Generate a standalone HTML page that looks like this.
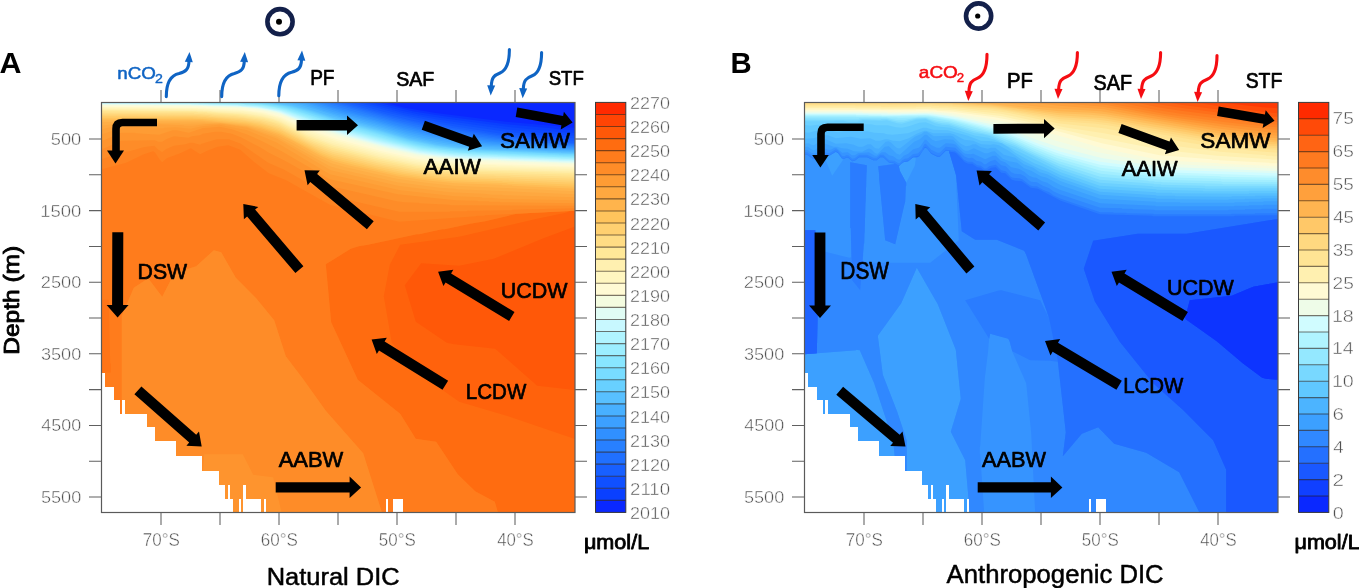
<!DOCTYPE html>
<html><head><meta charset="utf-8"><style>html,body{margin:0;padding:0;background:#fff;}svg{display:block;filter:blur(0.35px);}</style></head>
<body><svg width="1359" height="588" viewBox="0 0 1359 588">
<rect width="1359" height="588" fill="#fff"/>
<defs><clipPath id="clip0"><rect x="101.5" y="102.5" width="473.5" height="410.0"/></clipPath><clipPath id="clip703"><rect x="804.5" y="102.5" width="473.5" height="410.0"/></clipPath></defs>
<g clip-path="url(#clip0)">
<rect x="101.5" y="102.5" width="473.5" height="410.0" fill="#ff5808"/>
<path fill="#ff620c" fill-rule="evenodd" d="M100.8,101.8 100.8,513.2 575.8,513.2 575.8,390.2 537.2,385.8 495.2,348.8 454.2,344.2 446.8,342.8 415.8,321.8 404.8,285.2 421.2,263.2 459.2,265.8 493.8,258.8 542.2,238.8 575.8,226.2 575.8,101.8Z"/>
<path fill="#ff6c10" fill-rule="evenodd" d="M100.8,101.8 100.8,513.2 575.8,513.2 575.8,439.2 508.2,416.2 459.2,401.8 423.8,376.8 417.8,371.2 391.8,342.8 383.8,296.2 389.8,264.8 400.2,244.8 459.2,236.8 534.8,219.2 565.8,212.8 570.2,211.2 575.8,210.8 575.8,101.8Z"/>
<path fill="#ff7416" fill-rule="evenodd" d="M100.8,101.8 100.8,513.2 498.2,513.2 494.8,501.8 475.2,491.2 457.8,474.2 436.2,441.8 415.8,438.8 400.2,413.8 357.8,379.8 331.2,322.2 325.8,264.2 350.8,248.8 358.8,246.2 368.2,244.8 416.8,234.2 419.2,234.2 442.2,229.2 444.8,229.2 470.2,223.8 485.2,221.2 516.8,213.8 575.8,210.8 575.8,101.8Z"/>
<path fill="#ff7c1c" fill-rule="evenodd" d="M100.8,101.8 100.8,299.8 108.2,299.8 108.8,300.2 110.2,363.2 110.8,363.8 110.8,372.2 110.2,372.8 100.8,372.8 100.8,513.2 498.2,513.2 494.8,501.8 475.2,491.2 457.8,474.2 436.2,441.8 415.8,438.8 400.2,413.8 357.8,379.8 331.2,322.2 325.8,264.2 350.8,248.8 358.8,246.2 368.2,244.8 416.8,234.2 419.2,234.2 442.2,229.2 444.8,229.2 470.2,223.8 485.2,221.2 516.8,213.8 575.8,210.8 575.8,101.8Z"/>
<path fill="#fe8422" fill-rule="evenodd" d="M133.8,287.8 121.8,315.8 121.8,513.2 382.2,513.2 363.2,453.2 325.8,410.8 302.2,377.8 285.8,356.2 274.2,320.2 256.2,298.2 235.8,277.8 221.2,252.2 213.8,250.2 196.2,266.2 174.2,273.2 162.2,296.8 148.2,278.2ZM100.8,101.8 100.8,168.8 103.8,168.8 126.2,162.8 143.8,154.2 153.2,151.2 155.2,152.8 159.8,159.8 162.2,162.2 166.8,158.2 180.2,153.2 190.8,148.2 200.2,154.2 207.2,150.8 217.8,146.8 228.2,145.2 240.2,149.8 253.8,161.8 268.8,173.2 286.2,180.2 329.8,204.8 399.2,221.8 476.2,216.2 476.8,215.8 484.2,215.8 484.8,215.2 575.8,210.8 575.8,101.8Z"/>
<path fill="#fe8c28" fill-rule="evenodd" d="M133.8,287.8 121.8,315.8 121.8,513.2 382.2,513.2 363.2,453.2 325.8,410.8 302.2,377.8 285.8,356.2 274.2,320.2 256.2,298.2 235.8,277.8 221.2,252.2 213.8,250.2 196.2,266.2 174.2,273.2 162.2,296.8 148.2,278.2ZM100.8,101.8 100.8,158.8 103.2,158.8 121.2,152.2 129.8,151.2 143.2,147.2 154.2,145.8 157.8,149.2 162.2,152.2 165.8,149.2 173.8,145.8 185.8,144.2 189.8,142.8 192.8,142.8 200.2,144.8 201.8,143.8 216.8,139.2 228.8,139.2 240.8,143.8 268.2,162.8 284.2,169.8 330.2,195.8 399.2,211.8 449.8,211.8 450.2,211.2 466.8,211.2 467.2,210.8 511.8,210.2 512.2,209.8 575.8,208.2 575.8,101.8Z"/>
<path fill="#fe942e" fill-rule="evenodd" d="M204.2,454.2 200.2,513.2 281.8,513.2 273.2,477.2 253.2,474.8 242.8,454.2ZM100.8,101.8 100.8,148.8 103.2,148.8 121.2,140.8 154.8,140.2 158.2,141.8 162.2,141.8 166.2,139.2 173.8,136.2 188.2,137.8 191.8,136.2 199.8,135.2 202.8,133.8 215.2,131.8 220.8,131.8 231.8,133.8 240.8,137.2 261.8,148.2 268.8,152.8 286.8,161.8 330.8,186.8 339.8,188.2 396.8,201.2 404.2,202.2 418.8,202.8 419.2,203.2 449.8,204.8 450.2,205.2 575.8,205.8 575.8,101.8Z"/>
<path fill="#fe9c34" fill-rule="evenodd" d="M100.8,101.8 100.8,140.8 103.8,140.2 121.2,132.8 135.2,132.8 135.8,133.2 159.2,134.8 172.8,130.2 176.2,130.2 188.8,132.8 202.2,128.2 219.2,126.8 231.8,129.2 247.8,134.8 261.2,140.8 280.8,150.8 329.8,179.2 397.8,194.2 455.8,200.2 477.8,200.8 478.2,201.2 488.8,201.2 489.2,201.8 499.8,201.8 500.2,202.2 575.8,203.2 575.8,101.8Z"/>
<path fill="#fea23a" fill-rule="evenodd" d="M100.8,101.8 100.8,133.8 103.8,133.8 118.8,128.8 128.2,126.8 152.8,127.8 153.2,128.2 163.8,128.2 164.2,127.8 175.8,127.2 190.2,128.8 202.2,126.2 219.2,124.8 247.2,130.2 276.2,142.2 329.8,174.2 400.2,190.2 454.8,196.2 481.8,197.2 482.2,197.8 490.8,197.8 500.2,198.8 575.8,200.2 575.8,101.8Z"/>
<path fill="#fea840" fill-rule="evenodd" d="M100.8,101.8 100.8,129.2 129.2,123.2 183.8,125.2 184.2,125.8 192.8,125.8 205.2,124.2 220.8,123.8 247.2,127.8 277.2,138.8 330.8,170.2 397.8,185.8 449.8,192.2 483.8,193.8 492.8,194.8 502.2,194.8 502.8,195.2 575.8,197.2 575.8,101.8Z"/>
<path fill="#feae46" fill-rule="evenodd" d="M100.8,101.8 100.8,125.8 128.2,122.2 139.8,122.2 140.2,122.8 159.8,122.8 160.2,123.2 179.8,123.2 180.2,123.8 220.2,123.2 246.8,126.8 276.8,136.8 329.8,166.2 342.2,169.8 397.2,182.2 439.8,187.8 455.8,188.8 456.2,189.2 575.8,194.2 575.8,101.8Z"/>
<path fill="#ffb44c" fill-rule="evenodd" d="M100.8,101.8 100.8,122.2 123.8,121.8 124.2,121.2 204.8,121.8 205.2,122.2 220.2,122.8 248.2,126.2 266.2,131.2 278.8,135.8 293.8,143.2 314.8,155.2 331.2,163.2 345.8,167.2 396.8,178.8 425.8,182.8 454.2,185.8 575.8,191.2 575.8,101.8Z"/>
<path fill="#ffbc54" fill-rule="evenodd" d="M100.8,101.8 100.8,120.2 199.8,120.2 245.8,124.8 261.2,128.2 279.2,134.2 293.8,141.2 319.2,155.2 333.2,161.2 348.2,165.2 399.8,176.8 429.8,180.8 455.2,183.2 501.8,184.8 502.2,185.2 511.8,185.2 512.2,185.8 575.8,188.8 575.8,101.8Z"/>
<path fill="#ffc45c" fill-rule="evenodd" d="M100.8,101.8 100.8,118.8 202.2,119.2 247.2,123.8 260.8,126.8 279.2,132.8 321.8,154.8 332.8,159.2 353.8,164.8 398.2,174.8 422.2,178.2 450.8,181.2 507.2,183.2 507.8,183.8 575.8,186.8 575.8,101.8Z"/>
<path fill="#ffca66" fill-rule="evenodd" d="M100.8,101.8 100.8,117.8 192.8,117.8 193.2,118.2 210.8,118.8 248.8,122.8 262.2,125.8 279.2,131.2 322.2,153.2 333.8,157.8 378.2,168.8 402.2,173.8 423.2,176.8 453.8,179.8 502.2,181.2 502.8,181.8 513.8,181.8 514.2,182.2 575.8,184.8 575.8,101.8Z"/>
<path fill="#ffd070" fill-rule="evenodd" d="M100.8,101.8 100.8,116.2 197.2,116.8 197.8,117.2 206.2,117.2 206.8,117.8 212.8,117.8 243.8,120.8 259.8,123.8 269.2,126.2 282.8,131.2 317.2,149.2 331.8,155.2 372.8,165.8 403.2,172.2 424.2,175.2 449.2,177.8 456.2,177.8 456.8,178.2 495.8,179.2 496.2,179.8 508.8,179.8 509.2,180.2 575.8,182.8 575.8,101.8Z"/>
<path fill="#ffd67a" fill-rule="evenodd" d="M100.8,101.8 100.8,115.2 200.2,115.8 200.8,116.2 208.2,116.2 208.8,116.8 236.8,118.8 259.2,122.2 279.2,128.2 313.2,145.8 332.8,153.8 375.8,164.8 407.2,171.2 425.2,173.8 445.2,175.8 451.2,175.8 451.8,176.2 575.8,180.8 575.8,101.8Z"/>
<path fill="#ffdc84" fill-rule="evenodd" d="M100.8,101.8 100.8,113.8 202.8,114.8 203.2,115.2 210.2,115.2 210.8,115.8 243.2,118.2 260.8,121.2 279.2,126.8 310.2,142.8 332.2,151.8 383.2,164.8 414.8,170.8 435.8,173.2 454.2,174.2 454.8,174.8 464.2,174.8 464.8,175.2 495.2,175.8 495.8,176.2 510.2,176.2 510.8,176.8 575.8,178.8 575.8,101.8Z"/>
<path fill="#ffe28e" fill-rule="evenodd" d="M100.8,101.8 100.8,112.8 193.8,113.2 194.2,113.8 204.8,113.8 205.2,114.2 212.2,114.2 212.8,114.8 235.8,116.2 260.2,119.8 272.2,122.8 279.2,125.2 309.2,140.8 331.8,149.8 379.8,162.2 412.2,168.8 432.2,171.2 457.8,172.8 458.2,173.2 575.8,176.8 575.8,101.8Z"/>
<path fill="#ffe898" fill-rule="evenodd" d="M100.8,101.8 100.8,111.2 197.8,112.2 198.2,112.8 207.2,112.8 207.8,113.2 238.2,115.2 264.2,119.2 279.2,123.8 308.2,138.8 331.2,147.8 374.2,159.2 416.2,167.8 433.2,169.8 461.8,171.2 462.2,171.8 575.8,174.8 575.8,101.8Z"/>
<path fill="#ffeca4" fill-rule="evenodd" d="M100.8,101.8 100.8,110.2 196.2,111.2 196.8,111.8 206.8,111.8 207.2,112.2 238.8,114.2 263.2,117.8 274.8,120.8 281.2,123.2 307.2,136.8 333.8,146.8 379.2,158.8 416.8,166.2 433.8,168.2 453.2,169.2 453.8,169.8 462.8,169.8 463.2,170.2 575.8,173.2 575.8,101.8Z"/>
<path fill="#fff0b0" fill-rule="evenodd" d="M100.8,101.8 100.8,109.8 202.8,110.8 203.2,111.2 211.2,111.2 211.8,111.8 243.8,113.8 260.8,116.2 271.8,118.8 279.2,121.2 306.2,134.8 332.8,144.8 379.8,157.2 416.8,164.8 433.2,166.8 460.2,168.2 460.8,168.8 575.8,171.8 575.8,101.8Z"/>
<path fill="#fff3b8" fill-rule="evenodd" d="M100.8,101.8 100.8,108.8 196.8,109.8 197.2,110.2 208.2,110.2 208.8,110.8 237.8,112.2 263.8,115.8 279.8,120.2 306.2,133.2 330.2,142.2 380.2,155.8 416.8,163.2 438.8,165.8 458.2,166.8 458.8,167.2 554.8,169.8 555.2,170.2 574.8,170.2 575.8,170.8 575.8,101.8Z"/>
<path fill="#fff6c0" fill-rule="evenodd" d="M100.8,101.8 100.8,108.2 203.8,109.2 204.2,109.8 213.2,109.8 213.8,110.2 242.8,111.8 261.2,114.2 270.8,116.2 280.2,119.2 308.8,132.8 339.2,143.2 380.8,154.2 411.2,160.8 423.8,162.8 449.8,165.2 456.2,165.2 456.8,165.8 466.2,165.8 466.8,166.2 575.8,169.2 575.8,101.8Z"/>
<path fill="#fff8ca" fill-rule="evenodd" d="M100.8,101.8 100.8,107.2 197.8,108.2 198.2,108.8 209.8,108.8 210.2,109.2 242.8,110.8 261.8,113.2 280.8,118.2 305.2,129.8 338.2,141.2 381.2,152.8 406.2,158.2 423.8,161.2 448.8,163.8 454.8,163.8 455.2,164.2 463.2,164.2 463.8,164.8 496.2,165.2 496.8,165.8 512.2,165.8 512.8,166.2 575.2,167.8 575.8,168.2 575.8,101.8Z"/>
<path fill="#fffad4" fill-rule="evenodd" d="M100.8,101.8 100.8,106.8 205.8,107.8 206.2,108.2 242.2,109.8 264.8,112.8 281.2,117.2 307.8,129.2 337.2,139.2 381.8,151.2 414.2,158.2 427.2,160.2 453.2,162.2 453.8,162.8 461.2,162.8 461.8,163.2 575.8,166.8 575.8,101.8Z"/>
<path fill="#fafbda" fill-rule="evenodd" d="M100.8,101.8 100.8,105.8 198.8,106.8 199.2,107.2 212.8,107.2 213.2,107.8 241.8,108.8 262.2,111.2 281.8,116.2 309.2,128.2 339.8,138.2 384.2,150.2 414.2,156.8 427.2,158.8 452.8,161.2 459.2,161.2 459.8,161.8 469.8,161.8 470.2,162.2 487.2,162.2 487.8,162.8 504.2,162.8 504.8,163.2 518.2,163.2 518.8,163.8 558.2,164.8 558.8,165.2 575.8,165.2 575.8,101.8Z"/>
<path fill="#f4fce0" fill-rule="evenodd" d="M100.8,101.8 100.8,105.2 207.8,106.2 208.2,106.8 240.8,107.8 255.8,109.2 276.2,113.2 286.2,116.8 310.8,127.2 338.8,136.2 384.8,148.8 417.2,155.8 457.8,160.2 575.8,164.2 575.8,101.8Z"/>
<path fill="#eafcea" fill-rule="evenodd" d="M100.8,101.8 100.8,104.8 190.8,105.2 191.2,105.8 235.2,106.8 235.8,107.2 243.8,107.2 257.8,108.8 279.2,113.2 308.8,125.2 341.8,135.8 390.2,148.8 418.2,154.8 441.8,157.8 458.8,158.8 459.2,159.2 467.8,159.2 468.2,159.8 500.8,160.2 501.2,160.8 575.8,163.2 575.8,101.8Z"/>
<path fill="#e0fcf4" fill-rule="evenodd" d="M100.8,101.8 100.8,104.2 206.8,105.2 207.2,105.8 242.8,106.8 257.8,108.2 272.2,110.8 279.8,112.8 308.8,124.2 350.8,137.2 390.2,147.8 417.8,153.8 444.8,157.2 462.8,158.2 463.2,158.8 506.2,159.8 506.8,160.2 519.2,160.2 519.8,160.8 575.8,162.8 575.8,101.8Z"/>
<path fill="#d4fafa" fill-rule="evenodd" d="M100.8,101.8 100.8,103.8 202.8,104.8 203.2,105.2 241.8,106.2 242.2,106.8 257.8,107.8 270.2,109.8 280.2,112.2 307.2,122.8 347.2,135.2 380.2,144.2 417.2,152.8 438.2,155.8 459.2,157.2 459.8,157.8 467.8,157.8 468.2,158.2 497.8,158.8 498.2,159.2 511.2,159.2 511.8,159.8 523.8,159.8 524.2,160.2 536.2,160.2 536.8,160.8 548.8,160.8 549.2,161.2 575.8,161.8 575.8,101.8Z"/>
<path fill="#c8f8ff" fill-rule="evenodd" d="M100.8,101.8 100.8,103.2 105.8,103.8 197.8,104.2 198.2,104.8 240.8,105.8 241.2,106.2 257.8,107.2 280.8,111.8 305.8,121.2 343.8,133.2 374.8,141.8 419.2,152.2 436.8,154.8 456.2,156.8 462.8,156.8 463.2,157.2 575.8,161.2 575.8,101.8Z"/>
<path fill="#bcf6ff" fill-rule="evenodd" d="M100.8,101.8 100.8,103.2 191.2,103.8 191.8,104.2 239.2,105.2 239.8,105.8 257.2,106.8 279.8,110.8 304.2,119.8 336.8,130.2 376.8,141.2 418.8,151.2 435.2,153.8 459.8,156.2 467.2,156.2 467.8,156.8 508.2,157.8 508.8,158.2 558.8,159.8 559.2,160.2 575.2,160.2 575.8,160.8 575.8,101.8Z"/>
<path fill="#b0f4ff" fill-rule="evenodd" d="M100.8,101.8 100.8,102.8 208.2,103.8 208.8,104.2 237.8,104.8 238.2,105.2 257.2,106.2 280.2,110.2 331.8,127.8 378.8,140.8 420.8,150.8 456.8,155.2 463.2,155.2 463.8,155.8 575.8,159.8 575.8,101.8Z"/>
<path fill="#a6f1ff" fill-rule="evenodd" d="M100.8,101.8 100.8,102.2 119.8,102.2 120.2,102.8 204.2,103.2 204.8,103.8 245.8,104.8 246.2,105.2 261.8,106.2 282.8,110.2 331.8,126.8 382.8,140.8 420.2,149.8 444.8,153.2 460.2,154.8 467.2,154.8 467.8,155.2 575.8,159.2 575.8,101.8Z"/>
<path fill="#9ceeff" fill-rule="evenodd" d="M100.8,101.8 105.2,102.2 198.8,102.8 199.2,103.2 244.8,104.2 245.2,104.8 261.8,105.8 272.2,107.2 285.2,110.2 311.2,119.2 342.2,128.8 396.2,143.2 422.2,149.2 452.2,153.2 471.8,154.2 472.2,154.8 497.2,155.2 497.8,155.8 560.2,157.8 560.8,158.2 575.8,158.2 575.8,101.8Z"/>
<path fill="#92eaff" fill-rule="evenodd" d="M100.8,101.8 191.2,102.2 191.8,102.8 243.8,103.8 244.2,104.2 261.8,105.2 272.8,106.8 286.2,109.8 312.8,118.8 342.2,127.8 396.2,142.2 421.8,148.2 445.8,151.8 460.2,153.2 466.8,153.2 467.2,153.8 575.8,157.8 575.8,101.8Z"/>
<path fill="#88e6ff" fill-rule="evenodd" d="M132.8,101.8 210.2,102.2 210.8,102.8 242.2,103.2 242.8,103.8 250.8,103.8 266.2,105.2 285.2,108.8 338.8,125.8 403.8,143.2 423.8,147.8 463.8,152.8 575.8,157.2 575.8,101.8Z"/>
<path fill="#80e1ff" fill-rule="evenodd" d="M169.8,101.8 205.2,101.8 205.8,102.2 240.8,102.8 241.2,103.2 262.2,104.2 276.8,106.2 291.8,109.8 344.2,126.2 375.8,134.2 401.8,141.8 415.8,145.2 438.8,149.2 455.2,151.2 475.8,152.2 476.2,152.8 562.2,155.8 562.8,156.2 575.8,156.2 575.8,101.8Z"/>
<path fill="#78dcff" fill-rule="evenodd" d="M200.2,101.8 249.2,102.8 277.8,105.8 292.8,109.2 330.2,121.2 383.2,135.2 399.8,140.2 417.8,144.8 434.2,147.8 471.2,151.8 575.8,155.8 575.8,101.8Z"/>
<path fill="#70d6ff" fill-rule="evenodd" d="M218.2,101.8 236.8,101.8 237.2,102.2 256.2,102.8 271.8,104.2 283.8,106.2 301.2,110.8 340.8,123.2 366.8,129.8 403.2,140.2 421.8,144.8 436.2,147.2 455.8,149.8 474.8,150.8 475.2,151.2 558.8,154.2 559.2,154.8 575.8,154.8 575.8,101.8Z"/>
<path fill="#68d0ff" fill-rule="evenodd" d="M234.2,101.8 247.8,101.8 248.2,102.2 262.8,102.8 287.2,106.2 299.2,109.2 337.2,121.2 385.2,133.8 406.8,140.2 435.2,146.2 470.8,150.2 575.8,154.2 575.8,101.8Z"/>
<path fill="#60c8ff" fill-rule="evenodd" d="M246.8,101.8 268.8,102.8 290.8,106.2 309.2,111.2 337.2,120.2 381.8,131.8 410.2,140.2 437.2,145.8 456.2,148.2 474.2,149.2 474.8,149.8 575.8,153.8 575.8,101.8Z"/>
<path fill="#58c0ff" fill-rule="evenodd" d="M256.2,101.8 269.2,102.2 292.2,105.8 310.8,110.8 333.8,118.2 378.2,129.8 408.2,138.8 436.2,144.8 458.8,147.8 478.2,148.8 478.8,149.2 547.2,151.8 547.8,152.2 560.8,152.2 561.2,152.8 575.8,152.8 575.8,101.8Z"/>
<path fill="#50b8ff" fill-rule="evenodd" d="M272.2,101.8 283.2,102.8 299.8,106.2 329.8,115.8 375.8,127.8 409.2,137.8 437.8,143.8 460.2,146.8 479.8,147.8 480.2,148.2 575.8,152.2 575.8,101.8Z"/>
<path fill="#48b0ff" fill-rule="evenodd" d="M285.8,101.8 302.2,105.2 342.2,117.8 381.2,127.8 407.8,135.8 429.8,140.8 448.8,143.8 472.2,146.2 512.8,148.2 513.2,148.8 533.2,149.2 533.8,149.8 575.8,151.2 575.8,101.8Z"/>
<path fill="#42a8ff" fill-rule="evenodd" d="M293.8,101.8 306.2,104.8 323.8,110.8 344.2,116.8 377.8,125.2 406.2,133.8 427.8,138.8 449.8,142.2 478.2,145.2 516.2,147.2 516.8,147.8 525.2,147.8 525.8,148.2 543.8,148.8 544.2,149.2 553.2,149.2 553.8,149.8 575.8,150.2 575.8,101.8Z"/>
<path fill="#3ca0ff" fill-rule="evenodd" d="M300.2,101.8 306.8,103.2 332.2,111.8 383.2,125.2 406.8,132.2 434.2,138.2 458.2,141.8 483.8,144.2 575.8,149.8 575.8,101.8Z"/>
<path fill="#3698ff" fill-rule="evenodd" d="M305.8,101.8 344.8,113.8 374.2,121.2 405.2,130.2 432.2,136.2 455.2,139.8 488.2,143.2 543.8,146.8 544.2,147.2 575.8,148.8 575.8,101.8Z"/>
<path fill="#3090ff" fill-rule="evenodd" d="M311.2,101.8 346.8,112.8 363.2,116.8 403.8,128.2 430.2,134.2 459.8,138.8 486.8,141.8 515.8,143.8 516.2,144.2 522.8,144.2 523.2,144.8 529.8,144.8 530.2,145.2 536.8,145.2 537.2,145.8 551.2,146.2 551.8,146.8 575.8,147.8 575.8,101.8Z"/>
<path fill="#2c88ff" fill-rule="evenodd" d="M316.2,101.8 334.8,107.8 365.2,116.2 370.8,117.2 400.2,125.8 428.2,132.2 460.2,137.2 495.2,141.2 550.8,145.2 551.2,145.8 557.8,145.8 558.2,146.2 575.8,146.8 575.8,101.8Z"/>
<path fill="#2880ff" fill-rule="evenodd" d="M320.8,101.8 350.8,110.8 416.8,128.2 434.8,131.8 464.8,136.2 498.2,140.2 575.8,146.2 575.8,101.8Z"/>
<path fill="#2478ff" fill-rule="evenodd" d="M325.8,101.8 395.2,121.2 415.2,126.2 432.8,129.8 468.8,135.2 500.8,139.2 555.8,143.8 556.2,144.2 575.8,145.2 575.8,101.8Z"/>
<path fill="#2070ff" fill-rule="evenodd" d="M330.8,101.8 401.2,121.2 430.8,127.8 498.8,137.8 555.8,143.2 575.8,144.2 575.8,101.8Z"/>
<path fill="#1c68ff" fill-rule="evenodd" d="M335.8,101.8 393.8,117.8 428.8,125.8 505.2,137.2 575.8,143.8 575.8,101.8Z"/>
<path fill="#1860ff" fill-rule="evenodd" d="M341.2,101.8 386.2,114.2 410.2,120.2 435.2,125.2 507.2,136.2 559.8,141.8 575.8,142.8 575.8,101.8Z"/>
<path fill="#1458ff" fill-rule="evenodd" d="M347.8,101.8 383.2,111.8 428.8,122.2 498.2,133.2 557.2,139.8 575.8,140.8 575.8,101.8Z"/>
<path fill="#1050ff" fill-rule="evenodd" d="M354.8,101.8 404.8,115.2 438.2,121.8 506.2,131.8 558.8,137.2 575.8,138.2 575.8,101.8Z"/>
<path fill="#0d48ff" fill-rule="evenodd" d="M361.8,101.8 404.2,113.2 435.8,119.2 506.2,129.2 554.8,134.2 575.8,135.8 575.8,101.8Z"/>
<path fill="#0a40ff" fill-rule="evenodd" d="M368.2,101.8 401.8,110.8 418.2,114.2 439.8,117.8 510.8,127.2 561.8,132.2 575.8,132.8 575.8,101.8Z"/>
<path fill="#0a34ff" fill-rule="evenodd" d="M374.8,101.8 412.8,111.2 444.2,116.2 506.2,124.2 551.8,128.2 557.2,129.2 575.8,130.2 575.8,101.8Z"/>
<path fill="#0a28ff" fill-rule="evenodd" d="M381.8,101.8 405.2,107.8 434.2,112.8 506.2,121.8 558.2,126.2 558.8,126.8 575.8,127.8 575.8,101.8Z"/>
<path fill="#fff" fill-rule="nonzero" shape-rendering="crispEdges" d="M101.5,372.9H104.8V513.5H101.5ZM104.8,386.5H113.6V513.5H104.8ZM113.6,400.1H119.8V513.5H113.6ZM121.8,400.1H125.2V513.5H121.8ZM119.8,413.7H121.8V513.5H119.8ZM125.2,413.5H147.0V513.5H125.2ZM147.0,427.3H154.5V513.5H147.0ZM154.5,441.4H176.1V513.5H154.5ZM176.1,455.5H202.0V513.5H176.1ZM202.0,470.6H219.2V513.5H202.0ZM219.2,484.6H225.0V513.5H219.2ZM225.0,498.7H232.6V513.5H225.0ZM228.0,484.6H229.7V513.5H228.0ZM239.0,498.7H241.0V513.5H239.0ZM243.0,484.6H245.5V513.5H243.0ZM245.5,498.7H261.3V513.5H245.5ZM264.0,498.7H266.4V513.5H264.0ZM386.1,498.5H388.3V513.5H386.1ZM392.5,498.5H403.1V513.5H392.5Z"/>
</g>
<rect x="101.5" y="102.5" width="473.5" height="410.0" fill="none" stroke="#5a5a5a" stroke-width="1.2"/>
<path d="M89,139.0H101.5M575.0,139.0H587.0M89,174.8H101.5M575.0,174.8H587.0M89,210.6H101.5M575.0,210.6H587.0M89,246.4H101.5M575.0,246.4H587.0M89,282.2H101.5M575.0,282.2H587.0M89,318.0H101.5M575.0,318.0H587.0M89,353.8H101.5M575.0,353.8H587.0M89,389.6H101.5M575.0,389.6H587.0M89,425.4H101.5M575.0,425.4H587.0M89,461.2H101.5M575.0,461.2H587.0M89,497.0H101.5M575.0,497.0H587.0M161,512.5V525.0M161,102.5V90.0M220,512.5V525.0M220,102.5V90.0M279,512.5V525.0M279,102.5V90.0M338,512.5V525.0M338,102.5V90.0M397,512.5V525.0M397,102.5V90.0M456,512.5V525.0M456,102.5V90.0M515,512.5V525.0M515,102.5V90.0" stroke="#606060" stroke-width="1.05" fill="none"/>
<g clip-path="url(#clip703)">
<rect x="804.5" y="102.5" width="473.5" height="410.0" fill="#ff3a04"/>
<path fill="#ff4a08" fill-rule="evenodd" d="M803.8,101.8 803.8,513.2 1278.8,513.2 1278.8,108.2 1262.8,107.2 1227.2,103.2 1219.2,101.8Z"/>
<path fill="#ff570e" fill-rule="evenodd" d="M803.8,101.8 803.8,513.2 1278.8,513.2 1278.8,113.2 1265.2,112.2 1241.2,108.8 1229.8,107.8 1189.8,101.8Z"/>
<path fill="#ff6414" fill-rule="evenodd" d="M803.8,101.8 803.8,513.2 1278.8,513.2 1278.8,117.2 1278.2,116.8 1272.2,116.8 1255.8,114.8 1251.8,113.8 1180.8,104.8 1163.8,101.8Z"/>
<path fill="#fe6f1a" fill-rule="evenodd" d="M803.8,101.8 803.8,513.2 1278.8,513.2 1278.8,119.8 1262.2,118.2 1180.8,107.8 1158.2,104.2 1148.2,101.8Z"/>
<path fill="#fe7a20" fill-rule="evenodd" d="M803.8,101.8 803.8,513.2 1278.8,513.2 1278.8,122.2 1252.2,119.8 1180.8,110.8 1157.8,107.2 1133.2,101.8Z"/>
<path fill="#fe8326" fill-rule="evenodd" d="M803.8,101.8 803.8,513.2 1278.8,513.2 1278.8,124.8 1231.8,120.2 1180.8,113.8 1154.8,109.8 1117.2,101.8Z"/>
<path fill="#fe8c2c" fill-rule="evenodd" d="M803.8,101.8 803.8,513.2 1278.8,513.2 1278.8,127.2 1268.2,126.8 1225.8,122.2 1166.2,114.2 1101.2,101.8Z"/>
<path fill="#fe9634" fill-rule="evenodd" d="M803.8,101.8 803.8,513.2 1278.8,513.2 1278.8,130.2 1226.2,124.8 1179.2,118.2 1145.8,112.8 1108.2,105.2 1081.8,101.8Z"/>
<path fill="#ffa03c" fill-rule="evenodd" d="M803.8,101.8 803.8,513.2 1278.8,513.2 1278.8,132.8 1268.2,132.2 1222.8,126.8 1168.8,118.8 1102.8,106.8 1063.8,103.2 1054.2,101.8Z"/>
<path fill="#ffaa46" fill-rule="evenodd" d="M803.8,101.8 803.8,513.2 1278.8,513.2 1278.8,135.8 1266.2,134.8 1216.2,128.2 1150.2,117.8 1103.8,109.2 1059.2,105.8 1025.2,101.8Z"/>
<path fill="#ffb450" fill-rule="evenodd" d="M803.8,101.8 803.8,513.2 1278.8,513.2 1278.8,138.2 1268.8,137.8 1223.8,131.8 1100.8,111.2 1053.2,108.2 992.2,101.8Z"/>
<path fill="#ffbe5c" fill-rule="evenodd" d="M803.8,101.8 803.8,513.2 1278.8,513.2 1278.8,140.8 1262.2,139.2 1215.2,132.8 1106.2,114.2 1091.8,112.8 1059.2,111.2 984.2,103.2 978.2,103.2 965.2,101.8Z"/>
<path fill="#ffc868" fill-rule="evenodd" d="M803.8,101.8 803.8,513.2 1278.8,513.2 1278.8,142.8 1220.8,135.8 1105.2,116.2 1090.2,114.8 1059.8,113.2 990.2,104.8 978.2,104.2 952.8,101.8Z"/>
<path fill="#ffd074" fill-rule="evenodd" d="M803.8,101.8 803.8,513.2 1278.8,513.2 1278.8,144.8 1278.2,144.2 1272.2,144.2 1219.8,137.8 1103.8,118.2 1059.8,115.2 1012.2,108.2 990.2,105.8 946.2,102.8 945.8,102.2 938.2,102.2 937.8,101.8Z"/>
<path fill="#ffd880" fill-rule="evenodd" d="M803.8,101.8 803.8,513.2 1278.8,513.2 1278.8,146.2 1268.8,145.8 1222.2,140.2 1109.8,121.2 1093.2,119.2 1060.2,117.2 995.8,107.2 953.2,104.2 952.8,103.8 936.8,103.2 936.2,102.8Z"/>
<path fill="#ffde8a" fill-rule="evenodd" d="M803.8,103.2 803.8,513.2 1278.8,513.2 1278.8,148.2 1264.8,147.2 1221.2,142.2 1108.8,123.2 1091.8,121.2 1060.2,119.2 995.8,108.2 965.8,106.2 959.2,105.2 952.8,105.2 952.2,104.8 934.8,104.2 934.2,103.8 887.8,104.2 887.2,103.8 862.8,103.8 862.2,103.2Z"/>
<path fill="#ffe494" fill-rule="evenodd" d="M803.8,104.8 803.8,513.2 1278.8,513.2 1278.8,150.2 1213.2,143.2 1107.8,125.2 1096.2,123.8 1060.8,121.2 1006.2,110.8 990.2,108.8 952.8,106.2 952.2,105.8 932.2,105.2 931.8,104.8 916.8,104.8 916.2,105.2Z"/>
<path fill="#ffeaa2" fill-rule="evenodd" d="M803.8,105.8 803.8,513.2 1278.8,513.2 1278.8,152.8 1252.2,150.8 1211.2,146.2 1147.8,136.2 1103.8,128.2 1057.8,123.2 1007.8,112.8 989.8,110.2 978.8,109.8 955.2,107.2 948.8,107.2 948.2,106.8 939.2,106.8 938.8,106.2 881.2,106.8 880.8,106.2 855.8,106.2 855.2,105.8Z"/>
<path fill="#fff0b0" fill-rule="evenodd" d="M803.8,107.2 803.8,513.2 1278.8,513.2 1278.8,156.2 1272.8,156.2 1272.2,155.8 1266.2,155.8 1265.8,155.2 1220.2,151.8 1161.8,144.2 1103.8,133.2 1064.2,127.2 1000.8,113.8 948.2,108.2 931.2,107.8 930.8,107.2 916.2,107.2 915.8,107.8Z"/>
<path fill="#fff5c2" fill-rule="evenodd" d="M803.8,108.2 803.8,513.2 1278.8,513.2 1278.8,159.8 1271.8,159.8 1271.2,159.2 1216.8,155.8 1160.8,149.8 1094.2,136.8 1002.2,116.2 953.8,110.2 934.8,109.2 934.2,108.8 881.2,109.2 880.8,108.8 855.8,108.8 855.2,108.2Z"/>
<path fill="#fffad4" fill-rule="evenodd" d="M803.8,109.8 803.8,513.2 1278.8,513.2 1278.8,163.2 1269.8,163.2 1269.2,162.8 1219.2,160.2 1218.8,159.8 1212.2,159.8 1211.8,159.2 1159.8,155.2 1101.8,143.2 1058.2,131.2 1008.2,119.8 994.8,117.2 953.2,111.8 936.8,110.8 936.2,110.2 928.8,110.2 928.2,109.8 916.2,109.8 915.8,110.2Z"/>
<path fill="#f6fbde" fill-rule="evenodd" d="M803.8,110.8 803.8,513.2 1278.8,513.2 1278.8,166.2 1219.2,163.8 1218.8,163.2 1170.2,160.8 1156.2,159.2 1104.2,148.8 1061.2,136.2 1005.2,121.8 992.8,119.2 949.2,112.8 933.8,111.8 933.2,111.2 887.8,111.8 887.2,111.2 862.8,111.2 862.2,110.8Z"/>
<path fill="#eefce8" fill-rule="evenodd" d="M803.8,111.8 803.8,513.2 1278.8,513.2 1278.8,168.8 1175.2,164.2 1174.8,163.8 1166.2,163.8 1153.2,162.2 1097.8,152.2 1054.2,140.2 1001.8,123.8 946.8,113.8 931.8,112.2 887.8,112.8 887.2,112.2 862.8,112.2 862.2,111.8Z"/>
<path fill="#dffcf4" fill-rule="evenodd" d="M803.8,112.8 803.8,513.2 1278.8,513.2 1278.8,171.2 1161.8,166.8 1102.8,158.2 1059.2,147.2 1036.8,139.8 1000.8,126.2 956.8,116.8 931.2,113.2 887.8,113.8 887.2,113.2 862.8,113.2 862.2,112.8Z"/>
<path fill="#d0fcff" fill-rule="evenodd" d="M803.8,113.8 803.8,513.2 1278.8,513.2 1278.8,173.2 1162.8,169.8 1100.2,161.8 1060.8,151.8 1036.8,143.2 1010.8,132.2 998.2,127.8 955.2,117.8 943.8,115.8 925.8,113.8 900.8,114.2 900.2,114.8 868.8,114.2 868.2,113.8Z"/>
<path fill="#c0f8ff" fill-rule="evenodd" d="M803.8,114.2 803.8,513.2 1278.8,513.2 1278.8,175.8 1162.8,172.2 1100.2,164.8 1065.8,155.8 1054.8,152.2 1036.2,145.2 999.2,129.8 959.2,119.8 928.8,114.8 881.8,115.2 881.2,114.8 856.2,114.8 855.8,114.2Z"/>
<path fill="#b0f4ff" fill-rule="evenodd" d="M803.8,115.2 803.8,513.2 1278.8,513.2 1278.8,177.8 1220.8,176.8 1220.2,176.2 1162.8,174.8 1100.8,167.8 1056.2,155.2 1035.8,147.2 1007.8,134.8 995.2,130.2 952.2,119.2 934.2,116.2 924.8,115.2 900.8,115.8 900.2,116.2 868.8,115.8 868.2,115.2Z"/>
<path fill="#a2eeff" fill-rule="evenodd" d="M803.8,115.8 803.8,513.2 1278.8,513.2 1278.8,180.2 1221.2,179.2 1220.8,178.8 1162.2,177.2 1100.8,170.8 1057.8,158.2 1030.8,147.2 1005.8,135.8 996.2,132.2 952.2,120.2 927.8,116.2 881.8,116.8 881.2,116.2 856.2,116.2 855.8,115.8Z"/>
<path fill="#94e8ff" fill-rule="evenodd" d="M803.8,116.8 803.8,513.2 1278.8,513.2 1278.8,182.2 1221.8,181.8 1221.2,181.2 1162.2,179.8 1100.8,173.8 1059.2,161.2 1036.2,151.8 1010.8,139.8 992.8,132.8 948.8,120.8 928.8,117.2 918.2,116.8 917.8,117.2 897.8,118.2 897.2,117.8 887.8,117.8 887.2,117.2Z"/>
<path fill="#86e0ff" fill-rule="evenodd" d="M803.8,118.2 803.8,513.2 1278.8,513.2 1278.8,184.2 1222.8,184.2 1222.2,183.8 1161.8,182.2 1161.2,181.8 1154.8,181.8 1154.2,181.2 1148.8,181.2 1148.2,180.8 1100.2,176.8 1059.2,163.8 1030.8,151.2 1015.8,143.8 994.2,134.8 988.2,132.8 974.2,129.8 948.8,122.2 937.2,120.8 926.2,117.8 916.8,117.8 905.2,119.8 896.2,119.8 886.8,118.2 859.2,118.2 858.8,118.8Z"/>
<path fill="#78d8ff" fill-rule="evenodd" d="M803.8,119.2 803.8,513.2 1278.8,513.2 1278.8,186.2 1205.2,186.2 1204.8,185.8 1161.2,184.8 1160.8,184.2 1154.2,184.2 1153.8,183.8 1099.8,179.8 1060.2,166.8 1027.8,151.8 1015.2,145.2 1006.8,142.2 991.8,135.2 971.8,130.8 948.8,123.8 942.2,123.2 935.2,121.8 925.2,118.2 916.2,118.8 903.2,121.8 898.2,121.8 886.8,119.2 881.2,119.2 880.8,119.8 862.2,119.2 857.8,120.2 804.8,119.8Z"/>
<path fill="#6cd0ff" fill-rule="evenodd" d="M803.8,120.8 803.8,513.2 1278.8,513.2 1278.8,188.2 1205.2,188.8 1204.8,188.2 1160.8,187.2 1160.2,186.8 1153.2,186.8 1152.8,186.2 1099.8,182.8 1060.2,169.2 1015.8,147.2 1004.8,143.2 990.8,136.2 982.8,134.2 974.8,133.2 948.8,125.2 941.8,124.8 935.2,123.2 925.8,119.2 916.2,119.8 901.8,123.8 897.2,123.2 886.8,120.2 881.8,120.8 863.2,120.2 857.2,121.8 848.2,121.8 843.8,120.8 834.8,120.8 834.2,121.2 806.2,121.2Z"/>
<path fill="#60c8ff" fill-rule="evenodd" d="M803.8,124.8 803.8,513.2 1278.8,513.2 1278.8,190.2 1277.8,190.8 1249.2,190.8 1248.8,191.2 1203.2,191.2 1202.8,190.8 1156.8,189.8 1156.2,189.2 1099.8,185.8 1060.8,172.2 994.8,139.8 988.2,137.8 975.2,135.8 950.2,127.8 936.2,126.2 925.8,122.2 919.2,122.8 908.8,126.2 901.8,127.8 895.8,127.2 887.8,125.2 875.8,125.2 870.8,124.2 862.8,124.2 858.8,125.2 816.8,124.8 810.2,125.8Z"/>
<path fill="#56beff" fill-rule="evenodd" d="M803.8,132.2 803.8,513.2 1278.8,513.2 1278.8,193.2 1249.2,193.2 1248.8,193.8 1172.2,193.2 1171.8,192.8 1156.2,192.8 1155.8,192.2 1099.8,188.8 1060.8,175.2 1042.2,166.2 1034.2,163.2 1015.2,152.8 1008.2,147.2 1001.8,143.2 991.8,141.2 980.8,140.8 967.8,135.8 947.8,130.2 933.2,129.8 926.2,127.8 923.2,127.8 907.8,133.2 892.8,134.8 886.8,134.2 883.8,133.2 874.2,132.8 867.8,131.2 857.8,131.2 857.2,130.8 845.8,130.8 837.8,132.2 829.2,130.2 821.2,130.2 813.8,131.2 809.2,132.8Z"/>
<path fill="#4cb4ff" fill-rule="evenodd" d="M803.8,138.8 803.8,513.2 1278.8,513.2 1278.8,195.2 1277.8,195.8 1255.2,195.8 1254.8,196.2 1231.8,196.2 1231.2,196.8 1175.2,196.2 1174.8,195.8 1156.8,195.8 1156.2,195.2 1099.8,191.8 1060.8,178.2 1047.8,171.8 1040.2,169.2 1023.2,160.8 1007.8,150.2 998.8,145.2 993.8,144.2 990.2,144.8 981.2,144.2 973.2,140.8 964.2,139.8 953.8,134.2 950.2,133.2 933.2,133.2 926.2,130.8 924.2,130.8 916.8,133.8 908.8,138.2 899.8,141.2 892.8,140.8 887.8,139.2 885.2,139.2 880.2,140.8 875.8,140.8 870.2,138.2 860.8,138.8 850.8,136.8 835.8,138.2 827.8,135.2 822.2,135.2 813.8,138.2Z"/>
<path fill="#44aaff" fill-rule="evenodd" d="M803.8,143.8 803.8,513.2 1278.8,513.2 1278.8,198.2 1261.8,198.2 1261.2,198.8 1245.2,198.8 1244.8,199.2 1228.8,199.2 1228.2,199.8 1175.2,199.2 1174.8,198.8 1156.2,198.8 1155.8,198.2 1099.8,194.8 1060.8,181.2 1047.2,174.2 1039.8,172.2 1033.2,167.8 1023.8,164.2 1015.2,157.8 1003.8,154.8 995.2,147.8 991.2,147.8 987.8,148.8 980.8,147.2 975.8,144.2 972.8,144.2 969.8,145.8 965.8,146.2 960.8,143.8 952.8,136.2 950.8,135.8 933.8,136.2 926.8,131.8 924.2,131.8 921.8,133.8 914.8,136.8 900.2,148.2 897.8,148.2 895.8,147.2 891.2,142.8 888.8,141.2 885.8,141.8 878.8,148.8 875.2,148.2 870.8,144.2 867.8,144.2 862.8,146.8 858.2,146.8 853.8,144.8 846.2,143.2 835.8,143.8 825.8,139.2 823.8,139.2 820.2,140.8 814.2,145.2 811.2,144.8 808.8,143.2Z"/>
<path fill="#3ca0ff" fill-rule="evenodd" d="M803.8,147.8 803.8,513.2 1278.8,513.2 1278.8,200.8 1277.8,201.2 1263.8,201.2 1263.2,201.8 1249.2,201.8 1248.8,202.2 1234.8,202.2 1234.2,202.8 1180.2,202.8 1179.8,202.2 1156.2,202.2 1155.8,201.8 1100.2,198.8 1060.8,185.2 1046.8,177.8 1040.8,176.2 1031.2,170.8 1024.2,168.2 1017.2,162.8 1009.2,161.2 1002.8,158.8 994.8,151.2 991.2,151.8 987.8,153.2 984.8,153.2 973.8,148.2 968.2,150.8 965.2,150.8 963.2,149.8 953.2,139.8 944.8,139.2 935.8,141.2 932.2,139.8 926.8,134.8 924.8,134.8 919.8,139.2 914.2,141.8 899.8,154.8 896.8,153.8 888.8,146.2 884.8,146.8 877.8,153.8 875.2,153.2 871.8,149.8 869.8,148.8 868.2,148.8 862.2,151.8 853.8,151.2 847.8,148.8 841.8,148.2 837.2,146.8 833.8,146.8 825.2,143.8 822.8,143.8 820.8,144.8 814.8,150.2 812.8,150.2 807.8,146.8 805.8,146.8Z"/>
<path fill="#3694ff" fill-rule="evenodd" d="M915.2,157.2 915.8,158.8 914.8,165.8 906.2,182.8 899.8,170.8 898.8,166.2 903.2,162.2 908.2,161.2 912.2,157.8ZM835.8,151.8 838.2,153.2 841.2,157.8 842.8,158.8 842.8,160.2 832.2,175.8 825.8,160.8 824.2,154.8 824.8,154.2 826.2,155.2 829.2,155.8ZM803.8,150.2 803.8,354.2 855.8,350.2 856.2,349.8 859.8,350.2 874.2,383.2 893.2,440.8 900.2,513.2 906.8,513.2 906.8,440.8 897.2,411.8 882.8,374.8 877.8,335.8 901.2,303.2 916.8,267.8 937.8,304.2 955.8,349.8 960.8,398.8 950.8,431.8 965.2,460.2 969.8,513.2 1278.8,513.2 1278.8,204.8 1263.8,204.8 1263.2,205.2 1249.2,205.2 1248.8,205.8 1234.8,205.8 1234.2,206.2 1155.8,206.2 1155.2,205.8 1100.2,203.2 1059.8,189.8 1054.2,187.2 1047.2,182.8 1042.2,181.2 1036.2,177.8 1032.8,177.2 1029.2,175.8 1024.2,171.8 1018.8,168.8 1011.2,167.2 1005.2,162.2 1000.8,160.8 995.8,155.8 992.8,155.8 985.2,159.2 973.2,153.8 970.2,154.2 965.2,153.8 962.8,152.2 955.8,144.8 953.2,143.8 945.8,143.2 939.8,147.8 936.8,147.8 930.8,144.8 926.2,139.8 924.8,139.8 920.8,145.8 918.8,147.8 913.2,149.2 908.2,153.8 903.8,155.8 899.8,159.8 897.2,159.2 893.2,156.2 889.2,155.2 885.2,152.2 881.8,152.2 876.8,155.8 874.8,155.8 868.8,152.2 858.2,153.2 854.8,155.2 851.8,155.2 847.8,152.2 842.2,152.8 836.2,147.8 834.8,147.8 830.8,149.8 827.8,149.8 824.2,148.2 821.2,148.2 816.8,152.8 814.8,153.8 811.2,152.8 807.2,149.8Z"/>
<path fill="#3088ff" fill-rule="evenodd" d="M803.8,152.2 803.8,154.8 807.2,154.8 812.8,158.8 816.2,158.2 821.2,153.8 823.8,153.8 826.2,155.2 829.2,155.8 835.8,151.8 838.2,153.2 841.8,158.2 844.2,158.8 846.2,157.8 848.2,157.8 852.2,161.2 854.8,160.8 859.2,157.2 867.2,157.2 873.2,160.2 876.8,160.2 880.2,157.2 883.2,157.2 889.2,162.8 894.8,163.8 878.2,166.2 885.2,240.2 895.2,244.2 903.8,205.8 905.2,201.2 905.8,186.2 906.2,185.8 906.2,182.8 899.8,170.8 898.8,166.2 903.2,162.2 908.2,161.2 913.2,157.2 917.2,157.2 919.2,156.2 923.2,149.2 924.8,147.8 925.8,147.8 927.8,149.2 931.2,153.8 937.2,156.8 939.8,156.8 945.8,150.8 948.8,150.8 955.8,172.8 958.8,240.2 930.2,262.8 869.2,262.8 862.8,260.8 863.8,243.8 864.2,243.2 864.2,232.8 864.8,232.2 864.8,217.8 865.2,217.2 865.2,202.8 865.8,202.2 865.8,187.8 866.2,187.2 866.2,172.8 866.8,172.2 866.8,165.2 850.2,162.2 850.2,227.8 850.8,228.2 851.2,257.2 849.2,257.8 817.2,249.8 815.8,247.8 815.2,230.2 803.8,230.2 803.8,354.2 855.8,350.2 856.2,349.8 859.8,350.2 874.2,383.2 893.2,440.8 900.2,513.2 906.8,513.2 906.8,440.8 897.2,411.8 882.8,374.8 877.8,335.8 901.2,303.2 916.8,267.8 937.8,304.2 955.8,349.8 960.8,398.8 950.8,431.8 965.2,460.2 969.8,513.2 984.2,513.2 980.2,454.2 979.8,453.8 979.8,446.8 980.2,446.2 984.8,378.2 988.2,350.2 989.2,336.8 990.2,333.8 1007.2,338.2 1008.8,339.2 1012.8,352.8 1026.2,383.2 1031.2,433.2 1035.2,513.2 1278.8,513.2 1278.8,208.2 1277.8,208.8 1261.8,208.8 1261.2,209.2 1245.2,209.2 1244.8,209.8 1228.8,209.8 1228.2,210.2 1154.8,210.2 1154.2,209.8 1132.8,209.2 1132.2,208.8 1122.2,208.8 1121.8,208.2 1100.2,207.8 1059.8,194.2 1053.2,191.2 1049.2,188.2 1042.8,185.8 1036.8,182.2 1031.2,181.8 1028.8,180.2 1024.8,176.2 1020.8,174.2 1014.8,173.8 1011.2,172.2 1005.8,166.2 1001.2,165.2 995.2,159.8 990.2,161.2 985.8,164.2 984.2,164.2 981.2,161.8 976.2,160.8 973.2,158.2 971.8,157.8 968.8,158.2 964.8,156.8 955.2,147.8 945.8,146.8 939.8,152.8 937.2,152.8 931.2,149.8 925.8,143.8 924.2,144.2 921.8,149.2 918.2,153.2 912.8,154.2 908.2,158.2 904.8,158.8 902.2,160.2 899.8,163.2 898.2,163.2 894.2,160.8 889.2,160.2 883.2,154.8 880.2,154.8 876.8,157.8 873.2,157.8 867.2,154.8 859.2,154.8 854.8,158.2 852.2,158.8 848.2,155.2 846.2,155.2 844.2,156.2 841.8,155.8 837.8,150.2 835.8,149.2 829.2,153.2 826.2,152.8 823.8,151.2 821.2,151.2 815.2,156.2 812.8,156.2 807.2,152.2Z"/>
<path fill="#2a7cff" fill-rule="evenodd" d="M1047.2,315.2 1047.8,314.8 1048.2,315.2 1047.8,315.8ZM1046.8,314.2 1047.2,313.8 1047.8,314.2 1047.2,314.8ZM1046.2,312.8 1046.8,312.2 1047.2,313.2 1046.8,313.8ZM815.2,230.2 803.8,230.2 803.8,354.2 816.8,353.2 818.2,294.8 817.8,294.2ZM850.2,162.2 850.2,227.8 850.8,228.2 852.2,280.2 860.2,290.2 863.8,243.8 864.2,243.2 866.8,165.2ZM803.8,154.2 803.8,154.8 807.2,154.8 812.8,158.8 815.2,158.8 821.2,153.8 823.8,153.8 826.2,155.2 829.2,155.8 835.8,151.8 838.2,153.2 841.8,158.2 844.2,158.8 846.2,157.8 848.2,157.8 852.2,161.2 854.8,160.8 859.2,157.2 867.2,157.2 873.2,160.2 876.8,160.2 880.2,157.2 883.2,157.2 889.2,162.8 894.2,163.2 894.8,163.8 894.2,164.2 878.2,166.2 879.2,174.2 879.2,179.2 885.2,240.2 895.2,244.2 905.2,201.2 905.8,186.2 906.2,185.8 906.2,182.8 899.8,170.8 898.8,166.2 903.2,162.2 908.2,161.2 913.2,157.2 917.2,157.2 919.2,156.2 924.8,147.8 926.8,148.2 931.2,153.8 937.2,156.8 939.8,156.8 945.8,150.8 948.8,150.8 956.2,175.8 961.8,231.2 975.2,239.8 996.8,239.8 1024.2,250.8 1026.2,254.8 1046.8,311.2 1046.2,312.8 1040.2,300.2 1001.2,290.2 997.8,290.8 965.2,300.2 989.2,338.8 990.2,333.8 1008.2,338.8 1009.8,341.8 1012.2,351.2 1030.2,360.2 1050.2,360.8 1057.8,361.8 1065.8,432.2 1062.8,456.2 1081.8,433.8 1098.2,427.2 1114.2,443.8 1146.2,452.8 1179.2,472.2 1199.8,513.2 1278.8,513.2 1278.8,213.2 1255.2,213.2 1254.8,213.8 1231.8,213.8 1231.2,214.2 1153.8,214.2 1153.2,213.8 1126.8,213.2 1126.2,212.8 1113.8,212.8 1113.2,212.2 1100.2,212.2 1060.8,198.8 1053.2,195.2 1049.2,192.2 1042.8,189.8 1036.8,186.2 1032.8,186.2 1029.8,185.2 1022.2,179.2 1019.2,178.2 1012.8,177.8 1010.8,176.8 1005.8,171.2 1001.2,170.2 995.8,164.8 989.2,166.2 986.8,168.2 984.8,168.8 980.8,165.8 977.2,165.2 972.2,161.8 967.8,161.8 963.8,159.8 959.2,154.2 954.8,150.8 945.8,149.8 939.8,155.8 937.2,155.8 931.2,152.8 925.8,146.8 924.2,147.2 922.2,151.2 918.8,155.8 912.8,156.8 908.8,160.2 903.2,161.8 899.8,165.2 898.2,165.2 894.2,162.8 889.2,162.2 883.2,156.8 880.2,156.8 876.8,159.8 873.2,159.8 867.2,156.8 859.2,156.8 854.8,160.2 852.2,160.8 848.2,157.2 846.2,157.2 844.2,158.2 841.8,157.8 837.8,152.2 835.8,151.2 829.2,155.2 826.2,154.8 823.8,153.2 821.2,153.2 815.2,158.2 812.8,158.2 807.2,154.2Z"/>
<path fill="#2470ff" fill-rule="evenodd" d="M815.2,230.2 803.8,230.2 803.8,354.2 816.8,353.2 818.2,294.8 817.8,294.2ZM949.2,151.8 956.2,175.8 961.8,231.2 975.2,239.8 996.8,239.8 1024.2,250.8 1026.2,254.8 1048.8,316.8 1057.8,360.2 1065.8,432.2 1062.8,456.2 1081.8,433.8 1098.2,427.2 1114.2,443.8 1146.2,452.8 1179.2,472.2 1199.8,513.2 1278.8,513.2 1278.8,215.2 1234.8,215.8 1234.2,216.2 1152.8,216.2 1152.2,215.8 1099.8,214.2 1060.8,200.8 1037.8,188.8 1030.8,187.8 1021.8,181.2 1015.2,180.8 1011.8,179.8 1005.2,173.2 1001.2,172.8 995.8,167.2 991.2,167.8 986.2,170.8 984.2,170.8 980.8,167.8 977.2,167.2 972.2,163.8 968.2,163.8 964.8,162.2 956.2,153.2 954.2,152.2Z"/>
<path fill="#1f64ff" fill-rule="evenodd" d="M815.2,230.2 803.8,230.2 803.8,354.2 816.8,353.2 818.2,294.8 817.8,294.2ZM1093.2,240.8 1083.8,268.8 1094.8,301.2 1119.8,341.8 1153.2,383.2 1182.8,409.8 1213.2,440.2 1226.2,469.8 1226.2,513.2 1278.8,513.2 1278.8,218.8 1186.8,233.8 1137.8,233.8Z"/>
<path fill="#1a58ff" fill-rule="evenodd" d="M1093.2,240.8 1083.8,268.8 1094.8,301.2 1119.8,341.8 1153.2,383.2 1182.8,409.8 1213.2,440.2 1226.2,469.8 1226.2,513.2 1278.8,513.2 1278.8,218.8 1186.8,233.8 1137.8,233.8Z"/>
<path fill="#154cff" fill-rule="evenodd" d="M1278.8,379.8 1278.8,282.2 1253.2,286.8 1231.8,295.8 1189.8,300.2 1185.2,317.8 1185.8,319.2 1216.8,341.2 1242.8,363.2 1262.2,377.8 1266.2,378.8Z"/>
<path fill="#1040ff" fill-rule="evenodd" d="M1278.8,379.8 1278.8,282.2 1253.2,286.8 1231.8,295.8 1189.8,300.2 1185.2,317.8 1185.8,319.2 1216.8,341.2 1242.8,363.2 1262.2,377.8 1266.2,378.8Z"/>
<path fill="#0d34ff" fill-rule="evenodd" d="M1278.8,379.8 1278.8,282.2 1253.2,286.8 1231.8,295.8 1189.8,300.2 1185.2,317.8 1185.8,319.2 1216.8,341.2 1242.8,363.2 1262.2,377.8 1266.2,378.8Z"/>
<path fill="#fff" fill-rule="nonzero" shape-rendering="crispEdges" d="M804.5,372.9H807.8V513.5H804.5ZM807.8,386.5H816.6V513.5H807.8ZM816.6,400.1H822.8V513.5H816.6ZM824.8,400.1H828.2V513.5H824.8ZM822.8,413.7H824.8V513.5H822.8ZM828.2,413.5H850.0V513.5H828.2ZM850.0,427.3H857.5V513.5H850.0ZM857.5,441.4H879.1V513.5H857.5ZM879.1,455.5H905.0V513.5H879.1ZM905.0,470.6H922.2V513.5H905.0ZM922.2,484.6H928.0V513.5H922.2ZM928.0,498.7H935.6V513.5H928.0ZM931.0,484.6H932.7V513.5H931.0ZM942.0,498.7H944.0V513.5H942.0ZM946.0,484.6H948.5V513.5H946.0ZM948.5,498.7H964.3V513.5H948.5ZM967.0,498.7H969.4V513.5H967.0ZM1089.1,498.5H1091.3V513.5H1089.1ZM1095.5,498.5H1106.1V513.5H1095.5Z"/>
</g>
<rect x="804.5" y="102.5" width="473.5" height="410.0" fill="none" stroke="#5a5a5a" stroke-width="1.2"/>
<path d="M792,139.0H804.5M1278.0,139.0H1290.0M792,174.8H804.5M1278.0,174.8H1290.0M792,210.6H804.5M1278.0,210.6H1290.0M792,246.4H804.5M1278.0,246.4H1290.0M792,282.2H804.5M1278.0,282.2H1290.0M792,318.0H804.5M1278.0,318.0H1290.0M792,353.8H804.5M1278.0,353.8H1290.0M792,389.6H804.5M1278.0,389.6H1290.0M792,425.4H804.5M1278.0,425.4H1290.0M792,461.2H804.5M1278.0,461.2H1290.0M792,497.0H804.5M1278.0,497.0H1290.0M864,512.5V525.0M864,102.5V90.0M923,512.5V525.0M923,102.5V90.0M982,512.5V525.0M982,102.5V90.0M1041,512.5V525.0M1041,102.5V90.0M1100,512.5V525.0M1100,102.5V90.0M1159,512.5V525.0M1159,102.5V90.0M1218,512.5V525.0M1218,102.5V90.0" stroke="#606060" stroke-width="1.05" fill="none"/>
<rect x="595.5" y="102.40" width="30.3" height="12.36" fill="#ff2a00"/>
<rect x="595.5" y="114.46" width="30.3" height="12.36" fill="#ff4404"/>
<rect x="595.5" y="126.52" width="30.3" height="12.36" fill="#ff5808"/>
<rect x="595.5" y="138.58" width="30.3" height="12.36" fill="#ff6c10"/>
<rect x="595.5" y="150.64" width="30.3" height="12.36" fill="#ff7c1c"/>
<rect x="595.5" y="162.69" width="30.3" height="12.36" fill="#fe8c28"/>
<rect x="595.5" y="174.75" width="30.3" height="12.36" fill="#fe9c34"/>
<rect x="595.5" y="186.81" width="30.3" height="12.36" fill="#fea840"/>
<rect x="595.5" y="198.87" width="30.3" height="12.36" fill="#ffb44c"/>
<rect x="595.5" y="210.93" width="30.3" height="12.36" fill="#ffc45c"/>
<rect x="595.5" y="222.99" width="30.3" height="12.36" fill="#ffd070"/>
<rect x="595.5" y="235.05" width="30.3" height="12.36" fill="#ffdc84"/>
<rect x="595.5" y="247.11" width="30.3" height="12.36" fill="#ffe898"/>
<rect x="595.5" y="259.16" width="30.3" height="12.36" fill="#fff0b0"/>
<rect x="595.5" y="271.22" width="30.3" height="12.36" fill="#fff6c0"/>
<rect x="595.5" y="283.28" width="30.3" height="12.36" fill="#fffad4"/>
<rect x="595.5" y="295.34" width="30.3" height="12.36" fill="#f4fce0"/>
<rect x="595.5" y="307.40" width="30.3" height="12.36" fill="#e0fcf4"/>
<rect x="595.5" y="319.46" width="30.3" height="12.36" fill="#c8f8ff"/>
<rect x="595.5" y="331.52" width="30.3" height="12.36" fill="#b0f4ff"/>
<rect x="595.5" y="343.58" width="30.3" height="12.36" fill="#9ceeff"/>
<rect x="595.5" y="355.64" width="30.3" height="12.36" fill="#88e6ff"/>
<rect x="595.5" y="367.69" width="30.3" height="12.36" fill="#78dcff"/>
<rect x="595.5" y="379.75" width="30.3" height="12.36" fill="#68d0ff"/>
<rect x="595.5" y="391.81" width="30.3" height="12.36" fill="#58c0ff"/>
<rect x="595.5" y="403.87" width="30.3" height="12.36" fill="#48b0ff"/>
<rect x="595.5" y="415.93" width="30.3" height="12.36" fill="#3ca0ff"/>
<rect x="595.5" y="427.99" width="30.3" height="12.36" fill="#3090ff"/>
<rect x="595.5" y="440.05" width="30.3" height="12.36" fill="#2880ff"/>
<rect x="595.5" y="452.11" width="30.3" height="12.36" fill="#2070ff"/>
<rect x="595.5" y="464.16" width="30.3" height="12.36" fill="#1860ff"/>
<rect x="595.5" y="476.22" width="30.3" height="12.36" fill="#1050ff"/>
<rect x="595.5" y="488.28" width="30.3" height="12.36" fill="#0a40ff"/>
<rect x="595.5" y="500.34" width="30.3" height="12.36" fill="#0a28ff"/>
<path d="M595.5,114.46H625.8M595.5,126.52H625.8M595.5,138.58H625.8M595.5,150.64H625.8M595.5,162.69H625.8M595.5,174.75H625.8M595.5,186.81H625.8M595.5,198.87H625.8M595.5,210.93H625.8M595.5,222.99H625.8M595.5,235.05H625.8M595.5,247.11H625.8M595.5,259.16H625.8M595.5,271.22H625.8M595.5,283.28H625.8M595.5,295.34H625.8M595.5,307.40H625.8M595.5,319.46H625.8M595.5,331.52H625.8M595.5,343.58H625.8M595.5,355.64H625.8M595.5,367.69H625.8M595.5,379.75H625.8M595.5,391.81H625.8M595.5,403.87H625.8M595.5,415.93H625.8M595.5,427.99H625.8M595.5,440.05H625.8M595.5,452.11H625.8M595.5,464.16H625.8M595.5,476.22H625.8M595.5,488.28H625.8M595.5,500.34H625.8" stroke="#2a1a10" stroke-width="1.1" stroke-opacity="0.6" fill="none"/>
<rect x="595.5" y="102.4" width="30.3" height="410.0" fill="none" stroke="#3a3a3a" stroke-width="1"/>
<rect x="1298.5" y="102.40" width="30.3" height="16.70" fill="#ff2a00"/>
<rect x="1298.5" y="118.80" width="30.3" height="16.70" fill="#ff4a08"/>
<rect x="1298.5" y="135.20" width="30.3" height="16.70" fill="#ff6414"/>
<rect x="1298.5" y="151.60" width="30.3" height="16.70" fill="#fe7a20"/>
<rect x="1298.5" y="168.00" width="30.3" height="16.70" fill="#fe8c2c"/>
<rect x="1298.5" y="184.40" width="30.3" height="16.70" fill="#ffa03c"/>
<rect x="1298.5" y="200.80" width="30.3" height="16.70" fill="#ffb450"/>
<rect x="1298.5" y="217.20" width="30.3" height="16.70" fill="#ffc868"/>
<rect x="1298.5" y="233.60" width="30.3" height="16.70" fill="#ffd880"/>
<rect x="1298.5" y="250.00" width="30.3" height="16.70" fill="#ffe494"/>
<rect x="1298.5" y="266.40" width="30.3" height="16.70" fill="#fff0b0"/>
<rect x="1298.5" y="282.80" width="30.3" height="16.70" fill="#fffad4"/>
<rect x="1298.5" y="299.20" width="30.3" height="16.70" fill="#eefce8"/>
<rect x="1298.5" y="315.60" width="30.3" height="16.70" fill="#d0fcff"/>
<rect x="1298.5" y="332.00" width="30.3" height="16.70" fill="#b0f4ff"/>
<rect x="1298.5" y="348.40" width="30.3" height="16.70" fill="#94e8ff"/>
<rect x="1298.5" y="364.80" width="30.3" height="16.70" fill="#78d8ff"/>
<rect x="1298.5" y="381.20" width="30.3" height="16.70" fill="#60c8ff"/>
<rect x="1298.5" y="397.60" width="30.3" height="16.70" fill="#4cb4ff"/>
<rect x="1298.5" y="414.00" width="30.3" height="16.70" fill="#3ca0ff"/>
<rect x="1298.5" y="430.40" width="30.3" height="16.70" fill="#3088ff"/>
<rect x="1298.5" y="446.80" width="30.3" height="16.70" fill="#2470ff"/>
<rect x="1298.5" y="463.20" width="30.3" height="16.70" fill="#1a58ff"/>
<rect x="1298.5" y="479.60" width="30.3" height="16.70" fill="#1040ff"/>
<rect x="1298.5" y="496.00" width="30.3" height="16.70" fill="#0a28ff"/>
<path d="M1298.5,118.80H1328.8M1298.5,135.20H1328.8M1298.5,151.60H1328.8M1298.5,168.00H1328.8M1298.5,184.40H1328.8M1298.5,200.80H1328.8M1298.5,217.20H1328.8M1298.5,233.60H1328.8M1298.5,250.00H1328.8M1298.5,266.40H1328.8M1298.5,282.80H1328.8M1298.5,299.20H1328.8M1298.5,315.60H1328.8M1298.5,332.00H1328.8M1298.5,348.40H1328.8M1298.5,364.80H1328.8M1298.5,381.20H1328.8M1298.5,397.60H1328.8M1298.5,414.00H1328.8M1298.5,430.40H1328.8M1298.5,446.80H1328.8M1298.5,463.20H1328.8M1298.5,479.60H1328.8M1298.5,496.00H1328.8" stroke="#2a1a10" stroke-width="1.1" stroke-opacity="0.6" fill="none"/>
<rect x="1298.5" y="102.4" width="30.3" height="410.0" fill="none" stroke="#3a3a3a" stroke-width="1"/>
<path d="M157,122.5H122.5Q116,122.5 116,129V151" stroke="#000" stroke-width="7.6" fill="none"/><polygon points="107,150.5 124,150.5 115.5,163.5" fill="#000"/>
<polygon fill="#000" points="296.6,130.4 347.0,130.4 347.0,135.1 358.0,125.3 347.0,115.5 347.0,120.1 296.6,120.1"/>
<polygon fill="#000" points="421.7,129.7 469.2,146.7 467.8,150.7 482.1,146.3 473.8,133.8 472.4,137.8 424.9,120.7"/>
<polygon fill="#000" points="515.7,117.0 561.4,125.2 560.7,129.4 572.6,122.4 563.9,111.7 563.1,115.9 517.3,107.6"/>
<polygon fill="#000" points="303.4,266.3 255.1,209.6 258.3,206.9 243.3,203.9 243.9,219.2 247.1,216.4 295.4,273.1"/>
<polygon fill="#000" points="373.7,221.3 317.1,173.9 319.8,170.6 304.5,170.2 307.6,185.2 310.3,181.9 366.9,229.3"/>
<polygon fill="#000" points="514.5,312.0 451.1,273.4 453.3,269.8 438.1,271.7 443.4,286.1 445.6,282.4 509.1,321.0"/>
<polygon fill="#000" points="448.1,380.7 384.6,341.4 386.8,337.8 371.6,339.6 376.8,354.0 379.0,350.4 442.5,389.7"/>
<polygon fill="#000" points="112.3,232.2 112.1,304.9 106.6,304.9 117.6,317.4 128.6,304.9 123.1,304.9 123.3,232.2"/>
<polygon fill="#000" points="134.4,394.3 189.2,442.6 186.4,445.8 201.7,446.6 199.0,431.5 196.2,434.7 141.4,386.5"/>
<polygon fill="#000" points="275.7,492.5 349.6,492.5 349.6,498.1 361.1,487.4 349.6,476.6 349.6,482.3 275.7,482.3"/>
<path d="M863.7,127.2H827.5Q821,127.2 821,133.7V155.5" stroke="#000" stroke-width="7.6" fill="none"/><polygon points="812.2,155 828.8,155 820.4,167.5" fill="#000"/>
<polygon fill="#000" points="993.4,133.7 1044.0,133.5 1044.0,138.2 1054.7,128.5 1044.0,118.9 1044.0,123.7 993.4,123.9"/>
<polygon fill="#000" points="1118.4,133.0 1166.3,150.3 1164.9,154.3 1179.2,149.9 1171.0,137.4 1169.5,141.4 1121.6,124.0"/>
<polygon fill="#000" points="1217.1,115.9 1263.4,123.7 1262.6,127.9 1274.5,120.8 1265.7,110.2 1264.9,114.4 1218.7,106.5"/>
<polygon fill="#000" points="974.4,266.6 927.0,209.9 930.3,207.2 915.3,204.1 915.7,219.4 919.0,216.7 966.4,273.4"/>
<polygon fill="#000" points="1045.1,222.4 989.1,174.2 991.9,171.0 976.6,170.4 979.5,185.4 982.3,182.2 1038.3,230.4"/>
<polygon fill="#000" points="1187.9,312.0 1124.5,273.4 1126.7,269.8 1111.5,271.7 1116.8,286.1 1119.0,282.4 1182.5,321.0"/>
<polygon fill="#000" points="1121.8,380.7 1058.0,342.7 1060.2,339.1 1045.0,341.1 1050.5,355.4 1052.6,351.7 1116.4,389.7"/>
<polygon fill="#000" points="814.6,232.5 814.6,305.5 809.0,305.5 820.0,318.0 831.0,305.5 825.4,305.5 825.4,232.5"/>
<polygon fill="#000" points="836.3,394.8 893.0,442.8 890.2,446.1 905.5,446.6 902.5,431.6 899.7,434.8 843.1,386.8"/>
<polygon fill="#000" points="977.7,492.5 1050.9,492.5 1050.9,498.1 1062.4,487.4 1050.9,476.6 1050.9,482.3 977.7,482.3"/>
<path d="M166.3,96.6C166.3,83.2 170.9,75.2 179.1,73.5C185.3,71.7 188.8,69.9 189.0,61.0" stroke="#0f64c4" stroke-width="3.1" fill="none" stroke-linecap="round"/><polygon fill="#0f64c4" points="189.5,52.1 192.8,62.3 184.8,61.8"/>
<path d="M221.7,96.6C221.7,83.2 226.3,75.2 234.4,73.4C240.6,71.6 244.1,69.8 244.3,60.9" stroke="#0f64c4" stroke-width="3.1" fill="none" stroke-linecap="round"/><polygon fill="#0f64c4" points="244.8,52.0 248.1,62.2 240.1,61.7"/>
<path d="M278.8,95.8C278.8,82.2 283.4,74.1 291.6,72.2C297.8,70.4 301.3,68.6 301.5,59.6" stroke="#0f64c4" stroke-width="3.1" fill="none" stroke-linecap="round"/><polygon fill="#0f64c4" points="302.0,50.5 305.3,60.7 297.4,60.2"/>
<path d="M509.4,49.6C509.4,63.3 505.7,70.7 500.0,73.0C494.4,75.2 491.6,77.1 491.3,86.2" stroke="#0f64c4" stroke-width="3.1" fill="none" stroke-linecap="round"/><polygon fill="#0f64c4" points="490.7,95.4 487.2,85.2 495.2,85.6"/>
<path d="M541.6,52.5C541.6,66.2 537.8,73.5 532.2,75.8C526.5,78.1 523.6,79.9 523.3,89.1" stroke="#0f64c4" stroke-width="3.1" fill="none" stroke-linecap="round"/><polygon fill="#0f64c4" points="522.7,98.2 519.2,88.0 527.2,88.4"/>
<path d="M987.0,54.3C987.0,68.3 983.3,75.8 977.6,78.1C972.0,80.5 969.2,82.3 968.9,91.7" stroke="#f50d12" stroke-width="3.1" fill="none" stroke-linecap="round"/><polygon fill="#f50d12" points="968.3,101.0 964.8,90.8 972.8,91.2"/>
<path d="M1077.4,52.5C1077.4,66.4 1073.5,73.8 1067.7,76.2C1061.9,78.5 1059.0,80.3 1058.6,89.6" stroke="#f50d12" stroke-width="3.1" fill="none" stroke-linecap="round"/><polygon fill="#f50d12" points="1058.0,98.9 1054.5,88.7 1062.5,89.1"/>
<path d="M1160.6,52.5C1160.6,66.4 1156.7,73.8 1150.8,76.2C1144.9,78.5 1142.0,80.3 1141.6,89.6" stroke="#f50d12" stroke-width="3.1" fill="none" stroke-linecap="round"/><polygon fill="#f50d12" points="1141.0,98.9 1137.5,88.7 1145.5,89.1"/>
<path d="M1217.0,55.5C1217.0,69.5 1213.1,76.9 1207.3,79.2C1201.5,81.5 1198.6,83.4 1198.2,92.7" stroke="#f50d12" stroke-width="3.1" fill="none" stroke-linecap="round"/><polygon fill="#f50d12" points="1197.6,102.0 1194.1,91.8 1202.1,92.2"/>
<circle cx="280" cy="21.7" r="12.6" fill="none" stroke="#13204a" stroke-width="4.6"/><circle cx="279" cy="21.7" r="3" fill="#000"/>
<circle cx="978.6" cy="16" r="12.6" fill="none" stroke="#13204a" stroke-width="4.6"/><circle cx="977.7" cy="16" r="2.6" fill="#000"/>
<text transform="translate(50.77 144.90) scale(1.0912 1)" font-family="Liberation Sans" font-weight="normal" font-size="16.71" fill="#505050"  stroke="#fff" stroke-width="0.45">500</text>
<text transform="translate(753.77 144.90) scale(1.0912 1)" font-family="Liberation Sans" font-weight="normal" font-size="16.71" fill="#505050"  stroke="#fff" stroke-width="0.45">500</text>
<text transform="translate(40.22 216.50) scale(1.1054 1)" font-family="Liberation Sans" font-weight="normal" font-size="16.71" fill="#505050"  stroke="#fff" stroke-width="0.45">1500</text>
<text transform="translate(743.22 216.50) scale(1.1054 1)" font-family="Liberation Sans" font-weight="normal" font-size="16.71" fill="#505050"  stroke="#fff" stroke-width="0.45">1500</text>
<text transform="translate(40.79 288.10) scale(1.0898 1)" font-family="Liberation Sans" font-weight="normal" font-size="16.71" fill="#505050"  stroke="#fff" stroke-width="0.45">2500</text>
<text transform="translate(743.79 288.10) scale(1.0898 1)" font-family="Liberation Sans" font-weight="normal" font-size="16.71" fill="#505050"  stroke="#fff" stroke-width="0.45">2500</text>
<text transform="translate(40.97 359.70) scale(1.0848 1)" font-family="Liberation Sans" font-weight="normal" font-size="16.71" fill="#505050"  stroke="#fff" stroke-width="0.45">3500</text>
<text transform="translate(743.97 359.70) scale(1.0848 1)" font-family="Liberation Sans" font-weight="normal" font-size="16.71" fill="#505050"  stroke="#fff" stroke-width="0.45">3500</text>
<text transform="translate(41.34 431.30) scale(1.0747 1)" font-family="Liberation Sans" font-weight="normal" font-size="16.71" fill="#505050"  stroke="#fff" stroke-width="0.45">4500</text>
<text transform="translate(744.34 431.30) scale(1.0747 1)" font-family="Liberation Sans" font-weight="normal" font-size="16.71" fill="#505050"  stroke="#fff" stroke-width="0.45">4500</text>
<text transform="translate(40.97 502.90) scale(1.0848 1)" font-family="Liberation Sans" font-weight="normal" font-size="16.71" fill="#505050"  stroke="#fff" stroke-width="0.45">5500</text>
<text transform="translate(743.97 502.90) scale(1.0848 1)" font-family="Liberation Sans" font-weight="normal" font-size="16.71" fill="#505050"  stroke="#fff" stroke-width="0.45">5500</text>
<text transform="translate(142.65 546.40) scale(0.9407 1)" font-family="Liberation Sans" font-weight="normal" font-size="18.14" fill="#505050"  stroke="#fff" stroke-width="0.45">70°S</text>
<text transform="translate(845.65 546.40) scale(0.9407 1)" font-family="Liberation Sans" font-weight="normal" font-size="18.14" fill="#505050"  stroke="#fff" stroke-width="0.45">70°S</text>
<text transform="translate(260.65 546.40) scale(0.9407 1)" font-family="Liberation Sans" font-weight="normal" font-size="18.14" fill="#505050"  stroke="#fff" stroke-width="0.45">60°S</text>
<text transform="translate(963.65 546.40) scale(0.9407 1)" font-family="Liberation Sans" font-weight="normal" font-size="18.14" fill="#505050"  stroke="#fff" stroke-width="0.45">60°S</text>
<text transform="translate(378.82 546.40) scale(0.9362 1)" font-family="Liberation Sans" font-weight="normal" font-size="18.14" fill="#505050"  stroke="#fff" stroke-width="0.45">50°S</text>
<text transform="translate(1081.82 546.40) scale(0.9362 1)" font-family="Liberation Sans" font-weight="normal" font-size="18.14" fill="#505050"  stroke="#fff" stroke-width="0.45">50°S</text>
<text transform="translate(497.16 546.40) scale(0.9273 1)" font-family="Liberation Sans" font-weight="normal" font-size="18.14" fill="#505050"  stroke="#fff" stroke-width="0.45">40°S</text>
<text transform="translate(1200.16 546.40) scale(0.9273 1)" font-family="Liberation Sans" font-weight="normal" font-size="18.14" fill="#505050"  stroke="#fff" stroke-width="0.45">40°S</text>
<text transform="translate(630.10 109.00) scale(1.1041 1)" font-family="Liberation Sans" font-weight="normal" font-size="16.29" fill="#505050"  stroke="#fff" stroke-width="0.45">2270</text>
<text transform="translate(630.10 133.12) scale(1.1041 1)" font-family="Liberation Sans" font-weight="normal" font-size="16.29" fill="#505050"  stroke="#fff" stroke-width="0.45">2260</text>
<text transform="translate(630.10 157.24) scale(1.1041 1)" font-family="Liberation Sans" font-weight="normal" font-size="16.29" fill="#505050"  stroke="#fff" stroke-width="0.45">2250</text>
<text transform="translate(630.10 181.36) scale(1.1041 1)" font-family="Liberation Sans" font-weight="normal" font-size="16.29" fill="#505050"  stroke="#fff" stroke-width="0.45">2240</text>
<text transform="translate(630.10 205.48) scale(1.1041 1)" font-family="Liberation Sans" font-weight="normal" font-size="16.29" fill="#505050"  stroke="#fff" stroke-width="0.45">2230</text>
<text transform="translate(630.10 229.60) scale(1.1041 1)" font-family="Liberation Sans" font-weight="normal" font-size="16.29" fill="#505050"  stroke="#fff" stroke-width="0.45">2220</text>
<text transform="translate(630.10 253.72) scale(1.1041 1)" font-family="Liberation Sans" font-weight="normal" font-size="16.29" fill="#505050"  stroke="#fff" stroke-width="0.45">2210</text>
<text transform="translate(630.10 277.84) scale(1.1041 1)" font-family="Liberation Sans" font-weight="normal" font-size="16.29" fill="#505050"  stroke="#fff" stroke-width="0.45">2200</text>
<text transform="translate(630.10 301.96) scale(1.1041 1)" font-family="Liberation Sans" font-weight="normal" font-size="16.29" fill="#505050"  stroke="#fff" stroke-width="0.45">2190</text>
<text transform="translate(630.10 326.08) scale(1.1041 1)" font-family="Liberation Sans" font-weight="normal" font-size="16.29" fill="#505050"  stroke="#fff" stroke-width="0.45">2180</text>
<text transform="translate(630.10 350.20) scale(1.1041 1)" font-family="Liberation Sans" font-weight="normal" font-size="16.29" fill="#505050"  stroke="#fff" stroke-width="0.45">2170</text>
<text transform="translate(630.10 374.32) scale(1.1041 1)" font-family="Liberation Sans" font-weight="normal" font-size="16.29" fill="#505050"  stroke="#fff" stroke-width="0.45">2160</text>
<text transform="translate(630.10 398.44) scale(1.1041 1)" font-family="Liberation Sans" font-weight="normal" font-size="16.29" fill="#505050"  stroke="#fff" stroke-width="0.45">2150</text>
<text transform="translate(630.10 422.56) scale(1.1041 1)" font-family="Liberation Sans" font-weight="normal" font-size="16.29" fill="#505050"  stroke="#fff" stroke-width="0.45">2140</text>
<text transform="translate(630.10 446.68) scale(1.1041 1)" font-family="Liberation Sans" font-weight="normal" font-size="16.29" fill="#505050"  stroke="#fff" stroke-width="0.45">2130</text>
<text transform="translate(630.10 470.80) scale(1.1041 1)" font-family="Liberation Sans" font-weight="normal" font-size="16.29" fill="#505050"  stroke="#fff" stroke-width="0.45">2120</text>
<text transform="translate(630.07 494.92) scale(1.1416 1)" font-family="Liberation Sans" font-weight="normal" font-size="16.29" fill="#505050"  stroke="#fff" stroke-width="0.45">2110</text>
<text transform="translate(630.10 519.04) scale(1.1041 1)" font-family="Liberation Sans" font-weight="normal" font-size="16.29" fill="#505050"  stroke="#fff" stroke-width="0.45">2010</text>
<text transform="translate(1332.54 124.24) scale(1.1992 1)" font-family="Liberation Sans" font-weight="normal" font-size="15.94" fill="#505050"  stroke="#fff" stroke-width="0.45">75</text>
<text transform="translate(1332.54 157.12) scale(1.2166 1)" font-family="Liberation Sans" font-weight="normal" font-size="15.71" fill="#505050"  stroke="#fff" stroke-width="0.45">65</text>
<text transform="translate(1332.74 190.00) scale(1.1876 1)" font-family="Liberation Sans" font-weight="normal" font-size="15.94" fill="#505050"  stroke="#fff" stroke-width="0.45">55</text>
<text transform="translate(1333.13 222.88) scale(1.1649 1)" font-family="Liberation Sans" font-weight="normal" font-size="15.94" fill="#505050"  stroke="#fff" stroke-width="0.45">45</text>
<text transform="translate(1332.74 255.76) scale(1.2048 1)" font-family="Liberation Sans" font-weight="normal" font-size="15.71" fill="#505050"  stroke="#fff" stroke-width="0.45">35</text>
<text transform="translate(1332.54 288.64) scale(1.2166 1)" font-family="Liberation Sans" font-weight="normal" font-size="15.71" fill="#505050"  stroke="#fff" stroke-width="0.45">25</text>
<text transform="translate(1331.92 321.52) scale(1.2534 1)" font-family="Liberation Sans" font-weight="normal" font-size="15.71" fill="#505050"  stroke="#fff" stroke-width="0.45">18</text>
<text transform="translate(1331.94 354.40) scale(1.2232 1)" font-family="Liberation Sans" font-weight="normal" font-size="15.94" fill="#505050"  stroke="#fff" stroke-width="0.45">14</text>
<text transform="translate(1331.92 387.28) scale(1.2534 1)" font-family="Liberation Sans" font-weight="normal" font-size="15.71" fill="#505050"  stroke="#fff" stroke-width="0.45">10</text>
<text transform="translate(1332.47 420.16) scale(1.3142 1)" font-family="Liberation Sans" font-weight="normal" font-size="15.71" fill="#505050"  stroke="#fff" stroke-width="0.45">6</text>
<text transform="translate(1333.13 453.04) scale(1.1684 1)" font-family="Liberation Sans" font-weight="normal" font-size="15.94" fill="#505050"  stroke="#fff" stroke-width="0.45">4</text>
<text transform="translate(1332.47 485.92) scale(1.3142 1)" font-family="Liberation Sans" font-weight="normal" font-size="15.71" fill="#505050"  stroke="#fff" stroke-width="0.45">2</text>
<text transform="translate(1332.71 518.80) scale(1.2595 1)" font-family="Liberation Sans" font-weight="normal" font-size="15.71" fill="#505050"  stroke="#fff" stroke-width="0.45">0</text>
<text transform="translate(500.08 147.60) scale(1.0074 1)" font-family="Liberation Sans" font-weight="normal" font-size="22.29" fill="#000"  stroke="#000" stroke-width="0.7" stroke-linejoin="round">SAMW</text>
<text transform="translate(423.60 174.10) scale(1.0370 1)" font-family="Liberation Sans" font-weight="normal" font-size="21.59" fill="#000"  stroke="#000" stroke-width="0.7" stroke-linejoin="round">AAIW</text>
<text transform="translate(500.78 297.70) scale(0.9459 1)" font-family="Liberation Sans" font-weight="normal" font-size="22.71" fill="#000"  stroke="#000" stroke-width="0.7" stroke-linejoin="round">UCDW</text>
<text transform="translate(465.86 398.90) scale(0.9390 1)" font-family="Liberation Sans" font-weight="normal" font-size="21.86" fill="#000"  stroke="#000" stroke-width="0.7" stroke-linejoin="round">LCDW</text>
<text transform="translate(137.60 279.00) scale(0.9657 1)" font-family="Liberation Sans" font-weight="normal" font-size="22.00" fill="#000"  stroke="#000" stroke-width="0.7" stroke-linejoin="round">DSW</text>
<text transform="translate(278.70 467.00) scale(0.9909 1)" font-family="Liberation Sans" font-weight="normal" font-size="22.17" fill="#000"  stroke="#000" stroke-width="0.7" stroke-linejoin="round">AABW</text>
<text transform="translate(1200.37 147.50) scale(1.0508 1)" font-family="Liberation Sans" font-weight="normal" font-size="21.43" fill="#000"  stroke="#000" stroke-width="0.7" stroke-linejoin="round">SAMW</text>
<text transform="translate(1121.80 175.80) scale(1.0115 1)" font-family="Liberation Sans" font-weight="normal" font-size="21.59" fill="#000"  stroke="#000" stroke-width="0.7" stroke-linejoin="round">AAIW</text>
<text transform="translate(1167.08 294.80) scale(0.9459 1)" font-family="Liberation Sans" font-weight="normal" font-size="22.71" fill="#000"  stroke="#000" stroke-width="0.7" stroke-linejoin="round">UCDW</text>
<text transform="translate(1123.27 393.10) scale(0.9342 1)" font-family="Liberation Sans" font-weight="normal" font-size="21.86" fill="#000"  stroke="#000" stroke-width="0.7" stroke-linejoin="round">LCDW</text>
<text transform="translate(840.33 279.30) scale(0.9063 1)" font-family="Liberation Sans" font-weight="normal" font-size="23.00" fill="#000"  stroke="#000" stroke-width="0.7" stroke-linejoin="round">DSW</text>
<text transform="translate(982.00 467.00) scale(1.0117 1)" font-family="Liberation Sans" font-weight="normal" font-size="21.45" fill="#000"  stroke="#000" stroke-width="0.7" stroke-linejoin="round">AABW</text>
<text transform="translate(310.18 84.50) scale(0.8882 1)" font-family="Liberation Sans" font-weight="normal" font-size="21.45" fill="#000"  stroke="#000" stroke-width="0.7" stroke-linejoin="round">PF</text>
<text transform="translate(396.22 85.60) scale(0.9281 1)" font-family="Liberation Sans" font-weight="normal" font-size="21.14" fill="#000"  stroke="#000" stroke-width="0.7" stroke-linejoin="round">SAF</text>
<text transform="translate(548.67 84.50) scale(0.8803 1)" font-family="Liberation Sans" font-weight="normal" font-size="21.14" fill="#000"  stroke="#000" stroke-width="0.7" stroke-linejoin="round">STF</text>
<text transform="translate(1007.08 87.90) scale(0.9445 1)" font-family="Liberation Sans" font-weight="normal" font-size="21.45" fill="#000"  stroke="#000" stroke-width="0.7" stroke-linejoin="round">PF</text>
<text transform="translate(1093.51 89.70) scale(0.8959 1)" font-family="Liberation Sans" font-weight="normal" font-size="22.14" fill="#000"  stroke="#000" stroke-width="0.7" stroke-linejoin="round">SAF</text>
<text transform="translate(1245.63 88.40) scale(0.8871 1)" font-family="Liberation Sans" font-weight="normal" font-size="21.86" fill="#000"  stroke="#000" stroke-width="0.7" stroke-linejoin="round">STF</text>
<text transform="translate(-0.61 72.70) scale(1.0103 1)" font-family="Liberation Sans" font-weight="bold" font-size="30.14" fill="#000" >A</text>
<text transform="translate(730.45 72.70) scale(0.9734 1)" font-family="Liberation Sans" font-weight="bold" font-size="30.14" fill="#000" >B</text>
<text transform="translate(266.76 585.30) scale(1.0379 1)" font-family="Liberation Sans" font-weight="normal" font-size="24.52" fill="#000"  stroke="#000" stroke-width="0.5" stroke-linejoin="round">Natural DIC</text>
<text transform="translate(946.60 582.70) scale(0.9925 1)" font-family="Liberation Sans" font-weight="normal" font-size="25.89" fill="#000"  stroke="#000" stroke-width="0.5" stroke-linejoin="round">Anthropogenic DIC</text>
<text transform="translate(583.89 548.70) scale(1.1188 1)" font-family="Liberation Sans" font-weight="normal" font-size="19.32" fill="#000"  stroke="#000" stroke-width="0.8" stroke-linejoin="round">μmol/L</text>
<text transform="translate(1294.49 549.00) scale(1.0642 1)" font-family="Liberation Sans" font-weight="normal" font-size="20.27" fill="#000"  stroke="#000" stroke-width="0.8" stroke-linejoin="round">μmol/L</text>
<text transform="translate(117.29 78.80) scale(1.0855 1)" font-family="Liberation Sans" font-weight="normal" font-size="17.29" fill="#0f64c4"  stroke="#0f64c4" stroke-width="0.5" stroke-linejoin="round">nCO</text>
<text transform="translate(155.09 82.50) scale(1.1637 1)" font-family="Liberation Sans" font-weight="normal" font-size="12.14" fill="#0f64c4"  stroke="#0f64c4" stroke-width="0.4" stroke-linejoin="round">2</text>
<text transform="translate(918.84 77.70) scale(1.1760 1)" font-family="Liberation Sans" font-weight="normal" font-size="16.14" fill="#f50d12"  stroke="#f50d12" stroke-width="0.5" stroke-linejoin="round">aCO</text>
<text transform="translate(956.84 81.50) scale(1.0921 1)" font-family="Liberation Sans" font-weight="normal" font-size="12.14" fill="#f50d12"  stroke="#f50d12" stroke-width="0.4" stroke-linejoin="round">2</text>
<text transform="translate(18.6 354.8) rotate(-90) scale(1.085 1)" font-family="Liberation Sans" font-size="22.6" fill="#000" stroke="#000" stroke-width="0.9" stroke-linejoin="round">Depth (m)</text>
</svg></body></html>
